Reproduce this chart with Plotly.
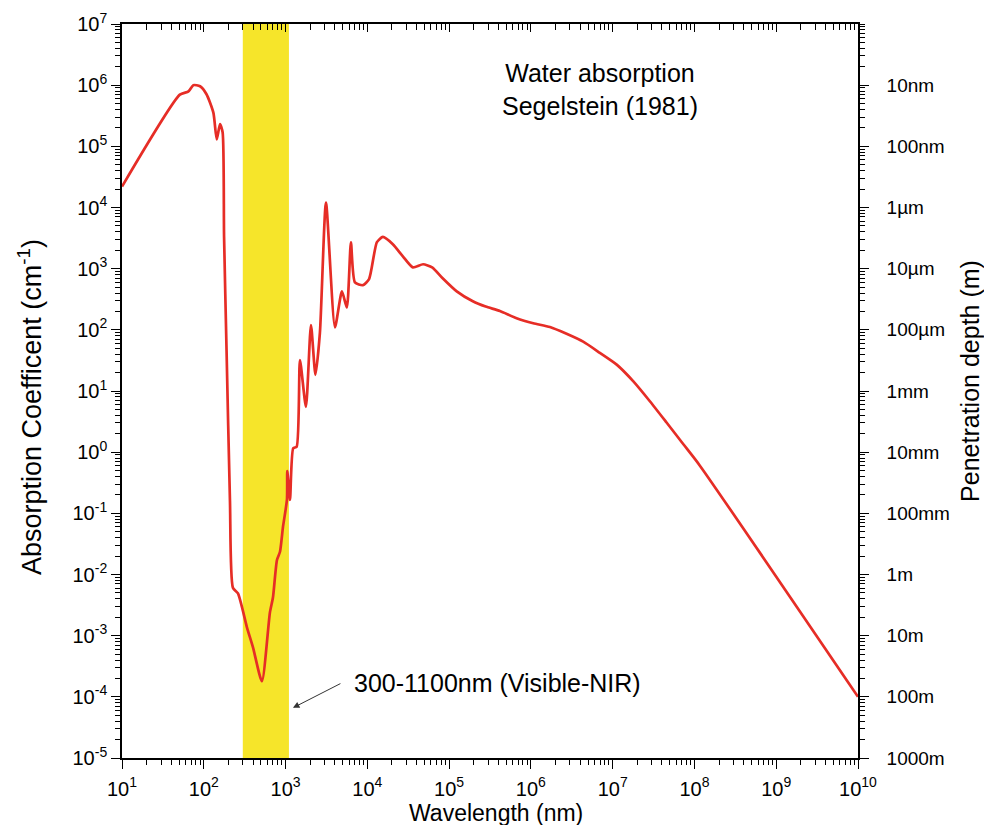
import plotly.graph_objects as go

# Segelstein (1981) water absorption
wavelength_nm = [10, 51, 65, 74.5, 90, 108, 131, 144, 158, 170, 177, 190, 209, 227, 262,
                 337, 399, 514, 644, 701, 785, 855, 930, 1040, 1050, 1132, 1241, 1367,
                 1500, 1775, 2045, 2320, 2630, 3120, 4020, 4890, 5620, 6300, 7050, 8830,
                 1.05e4, 1.31e4, 1.55e4, 2.05e4, 2.72e4, 3.6e4, 4.8e4, 6.2e4, 8.4e4,
                 1.24e5, 1.95e5, 2.8e5, 4.18e5, 6.68e5, 1.07e6, 1.71e6, 2.73e6, 4.36e6,
                 6.97e6, 1.12e7, 1.78e7, 2.85e7, 4.56e7, 7.28e7, 1.16e8, 1e10]
absorption = [2.2e4, 7.0e5, 7.9e5, 1.0e6, 9.6e5, 7.1e5, 3.55e5, 1.3e5, 2.3e5, 1.7e5, 3.4e3,
              45, 0.16, 6.1e-3, 4.9e-3, 1.37e-3, 6.5e-4, 1.8e-4, 2.4e-3, 4.2e-3, 0.0173,
              0.0235, 0.06, 0.167, 0.49, 0.166, 1.16, 1.23, 32, 5.5, 120, 18.4, 89, 1.2e4,
              110, 424, 232, 2690, 597, 537, 676, 2710, 3300, 2510, 1590, 1050, 1180,
              1050, 690, 425, 293, 240, 203, 155, 128, 111, 86, 64,
              42, 27, 14.5, 6.8, 3.05, 1.36, 0.607, 1e-4]

band_nm = [300, 1100]

x_exp = list(range(1, 11))
x_ticktext = ["10<sup>%d</sup>" % e for e in x_exp]
y_exp = list(range(-5, 8))
y_ticktext = ["10<sup>%d</sup>" % e for e in y_exp]
depth_exp = list(range(-5, 7))
depth_text = ["1000m", "100m", "10m", "1m", "100mm", "10mm", "1mm",
              "100µm", "10µm", "1µm", "100nm", "10nm"]

FONT = "Liberation Sans, Arial, sans-serif"
RED = "#e62d26"

fig = go.Figure()
fig.add_trace(go.Scatter(x=wavelength_nm, y=absorption, mode="lines",
                         line=dict(color=RED, width=2.7, shape="spline", smoothing=0.6),
                         showlegend=False, hoverinfo="skip"))
# invisible copy so the top / right axes get drawn
fig.add_trace(go.Scatter(x=wavelength_nm, y=absorption, mode="lines", xaxis="x2", yaxis="y2",
                         line=dict(color="rgba(0,0,0,0)"), showlegend=False, hoverinfo="skip"))

fig.add_shape(type="rect", xref="x", yref="y", x0=band_nm[0], x1=band_nm[1],
              y0=1e-5, y1=1e7, fillcolor="#f6e52a", line_width=0, layer="below")

axis_common = dict(type="log", showgrid=False, zeroline=False, showline=True, automargin=False,
                   linecolor="black", linewidth=1.6, tickcolor="black", tickwidth=1.2,
                   ticklabeloverflow="allow")
minor_out = dict(dtick="D1", ticks="outside", ticklen=5, tickcolor="black", showgrid=False)

# page body adds 8px on each side; size kept so no scrollbars appear,
# plot box lands at 122..858 x 24..758 on screen
fig.update_layout(
    width=976, height=817,
    margin=dict(l=114, r=126, t=16, b=67),
    paper_bgcolor="white", plot_bgcolor="white",
    font=dict(family=FONT, color="black"),
    xaxis=dict(**axis_common, range=[1, 10], tickmode="array",
               tickvals=[10 ** e for e in x_exp], ticktext=x_ticktext,
               ticks="outside", ticklen=9, tickfont=dict(size=20), ticklabelstandoff=3,
               minor=minor_out),
    xaxis2=dict(**axis_common, range=[1, 10], overlaying="x", side="top", anchor="y",
                tickmode="array", tickvals=[10 ** e for e in x_exp], showticklabels=False,
                ticks="inside", ticklen=8,
                minor=dict(dtick="D1", ticks="inside", ticklen=6, tickcolor="black", showgrid=False)),
    yaxis=dict(**axis_common, range=[-5, 7], tickmode="array",
               tickvals=[10 ** e for e in y_exp], ticktext=y_ticktext,
               ticks="outside", ticklen=9, tickfont=dict(size=20), minor=minor_out),
    yaxis2=dict(**axis_common, range=[-5, 7], overlaying="y", side="right", anchor="x",
                tickmode="array", tickvals=[10 ** e for e in depth_exp], ticktext=depth_text,
                ticks="outside", ticklen=9, tickfont=dict(size=19), ticklabelstandoff=14,
                minor=minor_out),
)

# axis titles
fig.add_annotation(x=0.508, y=-0.0749, xref="paper", yref="paper", showarrow=False,
                   xanchor="center", yanchor="middle",
                   text="Wavelength (nm)", font=dict(size=23))
fig.add_annotation(x=-0.125, y=0.4782, xref="paper", yref="paper", showarrow=False,
                   xanchor="center", yanchor="middle",
                   text="Absorption Coefficent (cm<sup>-1</sup>)", font=dict(size=27), textangle=-90)
fig.add_annotation(x=1.152, y=0.5136, xref="paper", yref="paper", showarrow=False,
                   xanchor="center", yanchor="middle",
                   text="Penetration depth (m)", font=dict(size=25), textangle=-90)

fig.add_annotation(x=0.649, y=0.9114, xref="paper", yref="paper", showarrow=False,
                   xanchor="center", yanchor="middle",
                   text="Water absorption<br>Segelstein (1981)", font=dict(size=25),
                   align="center")
fig.add_annotation(x=3.09, y=-4.18, xref="x", yref="y", ax=49, ay=-25, text="",
                   showarrow=True, arrowhead=2, arrowsize=1.3, arrowwidth=1, arrowcolor="#333")
fig.add_annotation(x=0.3125, y=0.1022, xref="paper", yref="paper", xanchor="left", yanchor="middle",
                   showarrow=False, text="300-1100nm (Visible-NIR)", font=dict(size=25))

fig.write_html("out.html")
